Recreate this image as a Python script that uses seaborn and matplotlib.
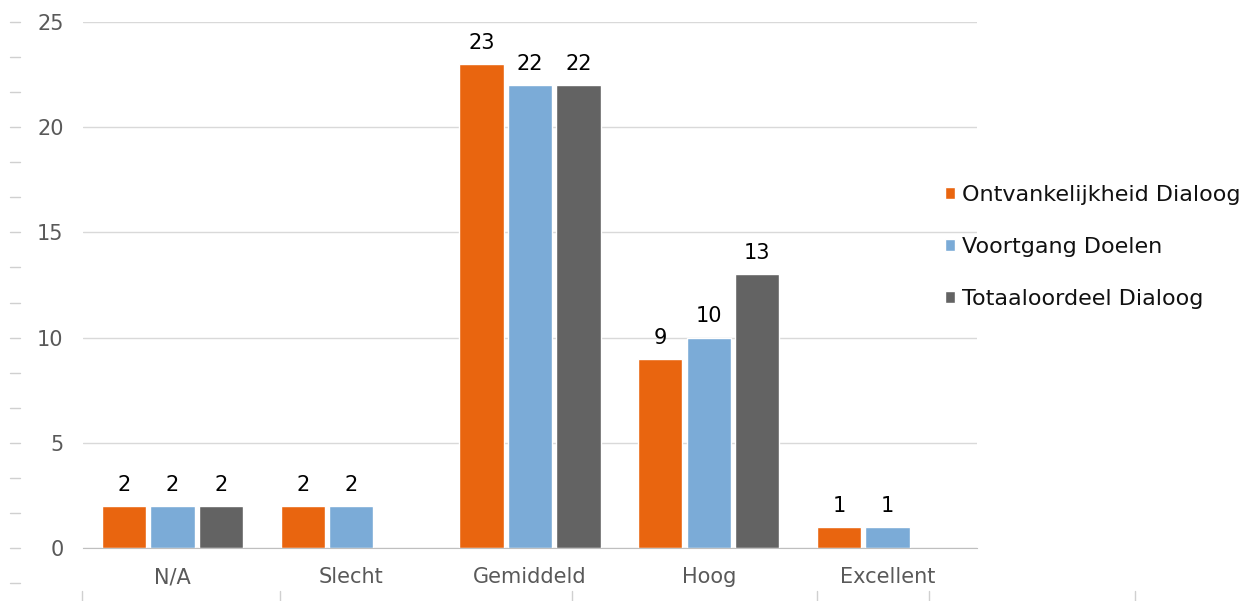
import matplotlib
matplotlib.use("Agg")
import matplotlib.pyplot as plt
import seaborn as sns
import pandas as pd
import numpy as np
from matplotlib.lines import Line2D

# data
categories = ["N/A", "Slecht", "Gemiddeld", "Hoog", "Excellent"]
series = ["Ontvankelijkheid Dialoog", "Voortgang Doelen", "Totaaloordeel Dialoog"]
ontvankelijkheid = [2, 2, 23, 9, 1]
voortgang = [2, 2, 22, 10, 1]
totaaloordeel = [2, None, 22, 13, None]
colors = ["#E9650F", "#7BABD7", "#636363"]

rows = []
for name, vals in zip(series, [ontvankelijkheid, voortgang, totaaloordeel]):
    for cat, v in zip(categories, vals):
        if v is not None:
            rows.append({"categorie": cat, "reeks": name, "aantal": v})
df = pd.DataFrame(rows)

sns.set_style("white")
plt.rcParams["font.family"] = ["DejaVu Sans"]

W, H = 1244, 601
fig = plt.figure(figsize=(W / 100, H / 100), dpi=100)
ax = fig.add_axes([83 / W, 1 - 548 / H, 894 / W, (548 - 22) / H])

sns.barplot(data=df, x="categorie", y="aantal", hue="reeks", order=categories,
            hue_order=series, palette=colors, width=0.815, gap=0.09,
            saturation=1, ax=ax)

ax.set_ylim(0, 25)
ax.set_xlim(-0.5, len(categories) - 0.5)
ax.set_yticks([0, 5, 10, 15, 20, 25])
ax.yaxis.grid(True, color="#D9D9D9", linewidth=1)
ax.set_axisbelow(True)
ax.set_xlabel("")
ax.set_ylabel("")
for s in ["top", "right", "left"]:
    ax.spines[s].set_visible(False)
ax.spines["bottom"].set_color("#BFBFBF")
ax.tick_params(axis="both", length=0, labelsize=15, labelcolor="#595959")
ax.tick_params(axis="y", pad=14)
ax.tick_params(axis="x", pad=14)

for cont in ax.containers:
    ax.bar_label(cont, fmt="%g", padding=8, fontsize=15, color="#000000")

# small dashes on the far left
trans = ax.get_yaxis_transform()
for yv in np.arange(-1, 16) * 5 / 3:
    ax.plot([(10 - 83) / 894, (20 - 83) / 894], [yv, yv], transform=trans,
            color="#D0D0D0", linewidth=1, clip_on=False)

# small ticks at the bottom edge
for xp in [82, 280, 572, 817, 929, 1135]:
    fig.add_artist(Line2D([xp / W, xp / W], [0, 10 / H],
                          color="#D0D0D0", linewidth=1))

ax.legend(loc="center left", bbox_to_anchor=(945 / W, 1 - 247 / H),
          bbox_transform=fig.transFigure, frameon=False, fontsize=16,
          handlelength=0.45, handleheight=0.45, handletextpad=0.3,
          labelspacing=1.45, borderpad=0, borderaxespad=0,
          labelcolor="#111111")

fig.savefig("out.png", dpi=100)
